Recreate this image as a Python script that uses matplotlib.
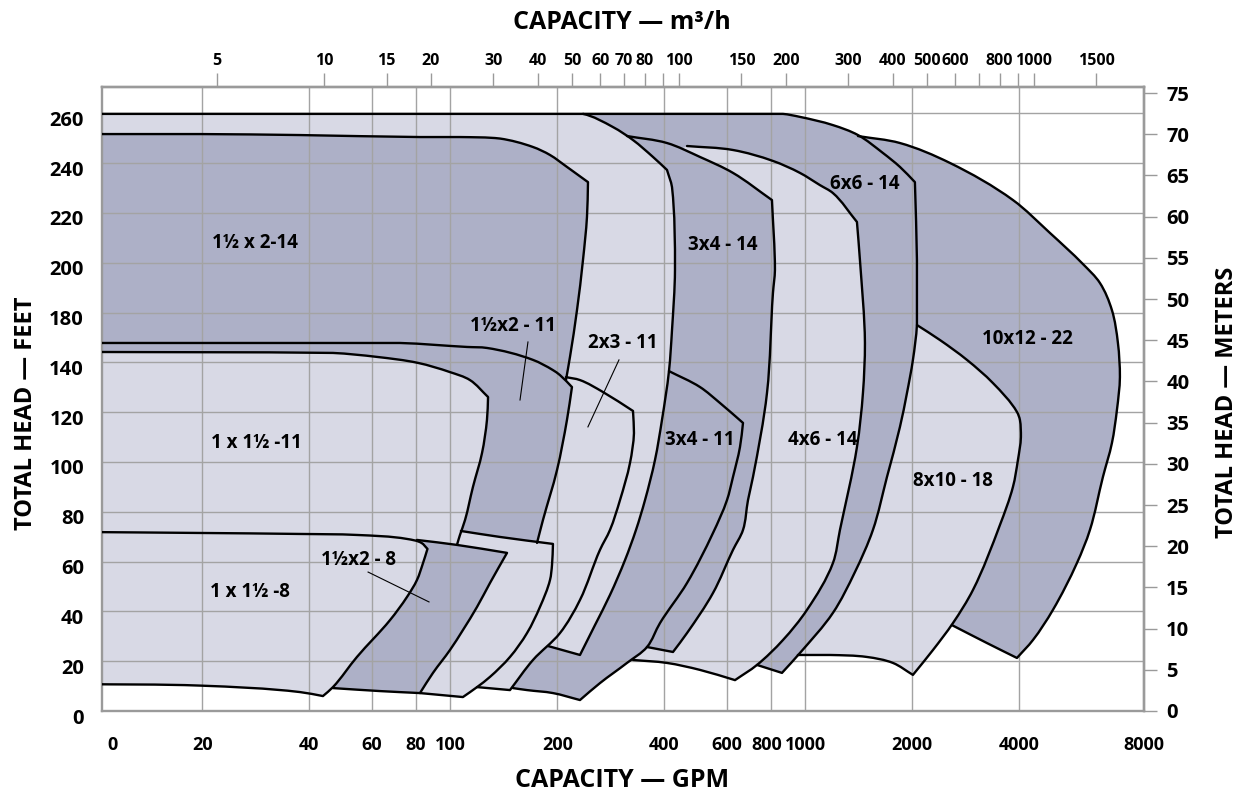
import numpy as np
import matplotlib.pyplot as plt
from matplotlib.path import Path
from matplotlib.patches import PathPatch
from matplotlib.ticker import NullLocator, NullFormatter
from matplotlib.transforms import ScaledTranslation

plt.rcParams['font.family'] = ['Open Sans', 'DejaVu Sans']
plt.rcParams['font.weight'] = 'bold'

# axis ranges: capacity in GPM (log), head in feet
XMIN, XMAX = 10.43, 8990
YMAX_FT = 250.6
GPM_PER_M3H = 4.403
FT_PER_M = 3.309

GPM_GRID = [20, 40, 60, 80, 100, 200, 400, 600, 800, 1000, 2000, 4000]
GPM_LABELS = ["0", "20", "40", "60", "80", "100", "200", "400", "600", "800",
              "1000", "2000", "4000", "8000"]
HEAD_GRID_FT = [0, 20, 40, 60, 80, 100, 120, 140, 160, 180, 200, 220, 240]
HEAD_LABELS = ["0", "20", "40", "60", "80", "100", "120", "140", "180", "200",
               "220", "240", "260"]
METER_TICKS = [0, 5, 10, 15, 20, 25, 30, 35, 40, 45, 50, 55, 60, 65, 70, 75]
M3H_TICKS = [5, 10, 15, 20, 30, 40, 50, 60, 70, 80, 100, 150, 200, 300, 400,
             500, 600, 800, 1000, 1500]
M3H_MINOR = [90, 700, 900]

# pump coverage outlines (GPM, ft); the first n_vis points are the visible edge,
# the rest closes the shape underneath the pumps drawn later
p10x12_q = [1406, 1846, 2553, 3842, 4883, 6049, 6754, 7301, 7591, 7690, 7542, 7301,
            6887, 6330, 5818, 4979, 4374, 3943, 3245, 2586, 1846, 1621, 1292]
p10x12_h = [230.9, 228.1, 220.1, 205.2, 192.0, 179.5, 171.9, 161.0, 147.8, 134.1, 120.9,
            107.6, 94.0, 72.7, 59.4, 40.6, 28.5, 21.3, 27.3, 34.5, 44.6, 165.1, 229.3]

p8x10_q = [2061, 2392, 2851, 3374, 3943, 4020, 4046, 3968, 3842, 3531, 2964, 2603,
           2287, 2008, 1764, 1490, 1172, 952, 848, 1334, 1907]
p8x10_h = [155.0, 149.0, 141.0, 131.7, 120.1, 116.9, 110.0, 100.8, 90.0, 74.7, 48.6,
           35.3, 24.5, 14.5, 19.3, 21.7, 22.5, 22.5, 22.5, 124.9, 157.8]

p6x6_q = [236.2, 744.6, 864.2, 965, 1195, 1406, 1653, 1846, 2034, 2061, 2061, 2008, 1932,
          1846, 1697, 1549, 1378.5, 1195, 965, 858.7, 730.3, 504.6, 300.3, 203.45]
p6x6_h = [239.8, 239.8, 239.8, 238.6, 235.3, 231.3, 224.1, 218.5, 212.4, 181.1, 155.0,
          141.0, 127.7, 114.1, 94.0, 72.7, 55.8, 39.4, 23.3, 15.3, 18.5, 24.5, 165.1, 239.8]

p4x6_q = [463.8, 625, 810, 965, 1098.6, 1195.3, 1396.6, 1424, 1471, 1452, 1396.6,
          1250.8, 1195, 1009.9, 864.2, 730.3, 633.2, 504.6, 407.3, 326.7, 263.7, 364.8]
p4x6_h = [226.9, 225.3, 220.9, 216.1, 211.2, 208.0, 196.4, 181.1, 147.8, 127.7,
          106.0, 72.7, 59.4, 40.6, 28.5, 18.5, 12.4, 16.5, 19.3, 20.5, 24.5, 219.3]

p3x4_14_q = [314.2, 407.3, 504.6, 625, 804.7, 820.5, 810, 779.2, 711.6, 688.9, 666.9,
             625, 549, 463.8, 423.5, 357.8, 300.3, 290.7]
p3x4_14_h = [230.9, 228.1, 222.5, 216.1, 205.2, 177.1, 167.9, 127.7, 94.0, 84.7, 72.7,
             64.7, 47.4, 31.3, 23.7, 25.7, 28.5, 229.3]

p3x4_11_q = [412.6, 504.6, 574.4, 666.9, 654.0, 625, 601.1, 549, 463.8, 389.2, 357.8,
             314.2, 263.7, 231.65, 194.4, 164.3, 150.0, 137.9, 364.8]
p3x4_11_h = [136.5, 130.1, 123.7, 115.7, 106.0, 94.0, 84.7, 71.5, 51.4, 35.3, 25.7,
             19.3, 11.2, 4.4, 7.2, 8.4, 9.2, 10.0, 136.5]

# unlabeled wide band behind the 2x3-11
pX_q = [9, 203.45, 236.2, 287.0, 326.7, 372.0, 407.3, 420.8, 429.0, 420.8, 412.6, 394.3,
        376.8, 353.2, 333.1, 310.2, 281.4, 255.3, 231.65, 188.2, 167.5, 9]
pX_h = [239.8, 239.8, 239.8, 234.5, 229.3, 222.5, 217.3, 210.4, 177.1, 153.0, 136.5,
        116.9, 100.8, 84.7, 72.7, 60.6, 46.6, 34.5, 22.5, 26.1, 28.5, 104.8]

p2x3_11_q = [211.5, 231.65, 268.9, 326.7, 328.8, 320.4, 300.3, 281.4, 263.7, 231.65,
             203.45, 170.8, 147.1, 118.8, 93.4, 167.5, 197.0]
p2x3_11_h = [134.1, 132.9, 128.1, 120.5, 111.6, 99.6, 84.7, 72.7, 64.7, 44.6, 31.3,
             20.5, 8.4, 9.6, 16.5, 116.9, 132.9]

p1h2_14_q = [9, 19.70, 37.68, 82.05, 106.35, 137.87, 170.8, 190.69, 212.9, 228.7, 244.0,
             242.4, 236.2, 227.2, 217.1, 211.5, 178.7, 9]
p1h2_14_h = [231.7, 231.7, 231.3, 230.5, 230.5, 229.9, 226.5, 223.3, 218.5, 215.3, 212.4,
             198.4, 181.1, 161.0, 142.2, 132.9, 124.9, 124.9]

p1h2_11_q = [9, 72.08, 111.3, 126.7, 170.8, 194.4, 203.45, 219.9, 212.9, 199.6, 182.2,
             175.3, 167.5, 99.68, 9]
p1h2_11_h = [147.8, 147.8, 146.2, 145.8, 141.0, 136.9, 134.9, 130.1, 116.9, 96.8, 76.7,
             67.5, 56.6, 52.6, 84.7]

# unlabeled small band under the 1 1/2 x 2-8
pY_q = [107.0, 137.87, 194.4, 193.2, 190.7, 178.7, 164.3, 147.1, 129.2, 118.8, 108.4,
        82.05, 72.08, 87.54]
pY_h = [72.3, 69.9, 67.1, 58.6, 52.6, 41.8, 31.3, 21.7, 13.7, 9.6, 5.6, 7.2, 12.4, 74.7]

p1x1h_11_q = [9, 46.66, 62.1, 80.98, 99.68, 113.48, 127.6, 126.7, 122.7, 115.7, 109.9,
              106.35, 104.3, 93.42, 9]
p1x1h_11_h = [144.2, 143.8, 142.2, 139.8, 136.1, 132.9, 126.1, 116.9, 103.6, 90.0, 76.7,
              70.7, 66.7, 44.6, 60.6]

p1h2_8_q = [80.45, 104.3, 144.3, 129.2, 118.8, 108.4, 99.68, 89.27, 82.05, 63.32, 46.66,
            41.52, 67.55, 72.08]
p1h2_8_h = [68.7, 66.7, 63.5, 51.4, 41.8, 32.5, 24.5, 15.3, 7.2, 8.0, 9.2, 10.0, 60.6, 66.7]

p1x1h_8_q = [9, 19.70, 37.68, 54.51, 75.42, 82.86, 86.14, 83.68, 80.45, 75.42, 67.55,
             54.51, 46.66, 43.72, 37.68, 19.70, 9]
p1x1h_8_h = [71.9, 71.5, 71.1, 70.7, 69.1, 67.5, 65.1, 59.4, 52.6, 45.8, 36.5, 21.7,
             9.6, 6.0, 7.6, 10.2, 10.8]

pump_names = ["1½ x 2-14", "1 x 1½ -11", "1 x 1½ -8", "1½x2 - 8", "1½x2 - 11",
              "2x3 - 11", "3x4 - 14", "3x4 - 11", "4x6 - 14", "6x6 - 14",
              "10x12 - 22", "8x10 - 18"]
name_q = [28.1, 28.4, 27.2, 55.2, 150, 306, 586, 505, 1120, 1471, 4221, 2603]
name_h = [187.9, 107.5, 47.8, 60.8, 154.6, 147.8, 187.0, 108.8, 108.8, 211.6, 149.4, 92.2]

leader_q = [(58.6, 87.0), (165.3, 157.0), (298.3, 243.9)]
leader_h = [(55.8, 43.8), (148.2, 124.9), (141.0, 114.1)]

DARK = "#adb0c7"
LIGHT = "#d8d9e5"
GRID_C = "#a3a3a3"
FRAME_C = "#9a9a9a"

fig, ax = plt.subplots(figsize=(12.44, 7.94), dpi=100)
fig.subplots_adjust(left=102 / 1244, right=1144 / 1244, bottom=83 / 794, top=707 / 794)
ax.set_xscale('log')
ax.set_xlim(XMIN, XMAX)
ax.set_ylim(0, YMAX_FT)


def curve_through(q, h, corner_deg=30):
    # bezier path through the traced points (smooth unless the bend is a corner),
    # control points kept inside each segment's box so flat runs don't bulge
    p = ax.transData.transform(np.column_stack([q, h]))
    seg = np.diff(p, axis=0)
    seglen = np.hypot(seg[:, 0], seg[:, 1])
    unit = seg / seglen[:, None]
    n = len(p)
    t_in = np.zeros_like(p)
    t_out = np.zeros_like(p)
    t_in[0] = t_out[0] = unit[0]
    t_in[-1] = t_out[-1] = unit[-1]
    for i in range(1, n - 1):
        a, b = unit[i - 1], unit[i]
        if np.dot(a, b) < np.cos(np.radians(corner_deg)):
            t_in[i], t_out[i] = a, b
        else:
            t = (a + b) / np.hypot(*(a + b))
            t_in[i] = t_out[i] = t
    verts = [p[0]]
    codes = [Path.MOVETO]
    for i in range(n - 1):
        d = seglen[i] / 3
        lo = np.minimum(p[i], p[i + 1])
        hi = np.maximum(p[i], p[i + 1])
        c1 = np.clip(p[i] + t_out[i] * d, lo, hi)
        c2 = np.clip(p[i + 1] - t_in[i + 1] * d, lo, hi)
        verts += [c1, c2, p[i + 1]]
        codes += [Path.CURVE4] * 3
    return ax.transData.inverted().transform(np.array(verts)), codes


# back to front
layers = [
    (p10x12_q, p10x12_h, DARK, 20),
    (p8x10_q, p8x10_h, LIGHT, 18),
    (p6x6_q, p6x6_h, DARK, 21),
    (p4x6_q, p4x6_h, LIGHT, 20),
    (p3x4_14_q, p3x4_14_h, DARK, 16),
    (p3x4_11_q, p3x4_11_h, DARK, 17),
    (pX_q, pX_h, LIGHT, 20),
    (p2x3_11_q, p2x3_11_h, LIGHT, 14),
    (p1h2_14_q, p1h2_14_h, DARK, 16),
    (p1h2_11_q, p1h2_11_h, DARK, 12),
    (pY_q, pY_h, LIGHT, 12),
    (p1x1h_11_q, p1x1h_11_h, LIGHT, 13),
    (p1h2_8_q, p1h2_8_h, DARK, 11),
    (p1x1h_8_q, p1x1h_8_h, LIGHT, 17),
]
outlines = []
for q, h, col, n in layers:
    verts, codes = curve_through(q[:n], h[:n])
    outlines.append(Path(verts, codes))
    hidden = list(zip(q[n:], h[n:]))
    fill_path = Path(list(verts) + hidden + [verts[0]],
                     codes + [Path.LINETO] * len(hidden) + [Path.CLOSEPOLY])
    ax.add_patch(PathPatch(fill_path, facecolor=col, edgecolor='none', zorder=1))

for g in GPM_GRID:
    ax.axvline(g, color=GRID_C, lw=1.0, zorder=2)
for f in HEAD_GRID_FT[1:]:
    ax.axhline(f, color=GRID_C, lw=1.0, zorder=2)

for path in outlines:
    ax.add_patch(PathPatch(path, facecolor='none', edgecolor='black', lw=1.7, zorder=3,
                           capstyle='round', joinstyle='round'))

for qs, hs in zip(leader_q, leader_h):
    ax.plot(qs, hs, color='black', lw=0.8, zorder=4)

for name, q, h in zip(pump_names, name_q, name_h):
    ax.text(q, h, name, ha='center', va='center', fontsize=13.5, zorder=5)

# bottom / left ticks
ax.set_xticks([XMIN] + GPM_GRID + [XMAX], labels=GPM_LABELS)
ax.xaxis.set_minor_locator(NullLocator())
ax.tick_params(axis='x', length=0, pad=18, labelsize=13)
ax.set_yticks(HEAD_GRID_FT, labels=HEAD_LABELS)
ax.tick_params(axis='y', length=0, pad=13, labelsize=14.5)
lbls = ax.get_xticklabels()
lbls[0].set_transform(lbls[0].get_transform() + ScaledTranslation(0.10, 0, fig.dpi_scale_trans))
lbls[9].set_transform(lbls[9].get_transform() + ScaledTranslation(-0.04, 0, fig.dpi_scale_trans))
for lb in ax.get_yticklabels():
    lb.set_transform(lb.get_transform() + ScaledTranslation(0, -0.05, fig.dpi_scale_trans))

for s in ax.spines.values():
    s.set_color(FRAME_C)
    s.set_linewidth(1.7)
    s.set_zorder(2.5)

top = ax.secondary_xaxis('top', functions=(lambda q: q / GPM_PER_M3H,
                                           lambda m: m * GPM_PER_M3H))
top.set_ticks(M3H_TICKS, labels=[str(v) for v in M3H_TICKS])
top.set_ticks(M3H_MINOR, minor=True)
top.xaxis.set_minor_formatter(NullFormatter())
top.tick_params(which='both', direction='out', length=10, width=1.0, color=FRAME_C,
                pad=3, labelsize=11.5)
for s in top.spines.values():
    s.set_color(FRAME_C)
    s.set_linewidth(1.7)

right = ax.secondary_yaxis('right', functions=(lambda f: f / FT_PER_M,
                                               lambda m: m * FT_PER_M))
right.set_ticks(METER_TICKS, labels=[str(v) for v in METER_TICKS])
right.tick_params(direction='out', length=9, width=1.0, color=FRAME_C, pad=7,
                  labelsize=14.5)
for s in right.spines.values():
    s.set_color(FRAME_C)
    s.set_linewidth(1.7)

fig.text(622 / 1244, 7.3 / 794, "CAPACITY — GPM", ha='center', va='baseline', fontsize=18)
fig.text(622 / 1244, (794 - 29.3) / 794, "CAPACITY — m³/h", ha='center', va='baseline',
         fontsize=18)
fig.text(26 / 1244, (794 - 413) / 794, "TOTAL HEAD — FEET", rotation=90, ha='center',
         va='center', fontsize=17)
fig.text(1227 / 1244, (794 - 402) / 794, "TOTAL HEAD — METERS", rotation=90, ha='center',
         va='center', fontsize=17)

fig.savefig('out.png', dpi=100)
